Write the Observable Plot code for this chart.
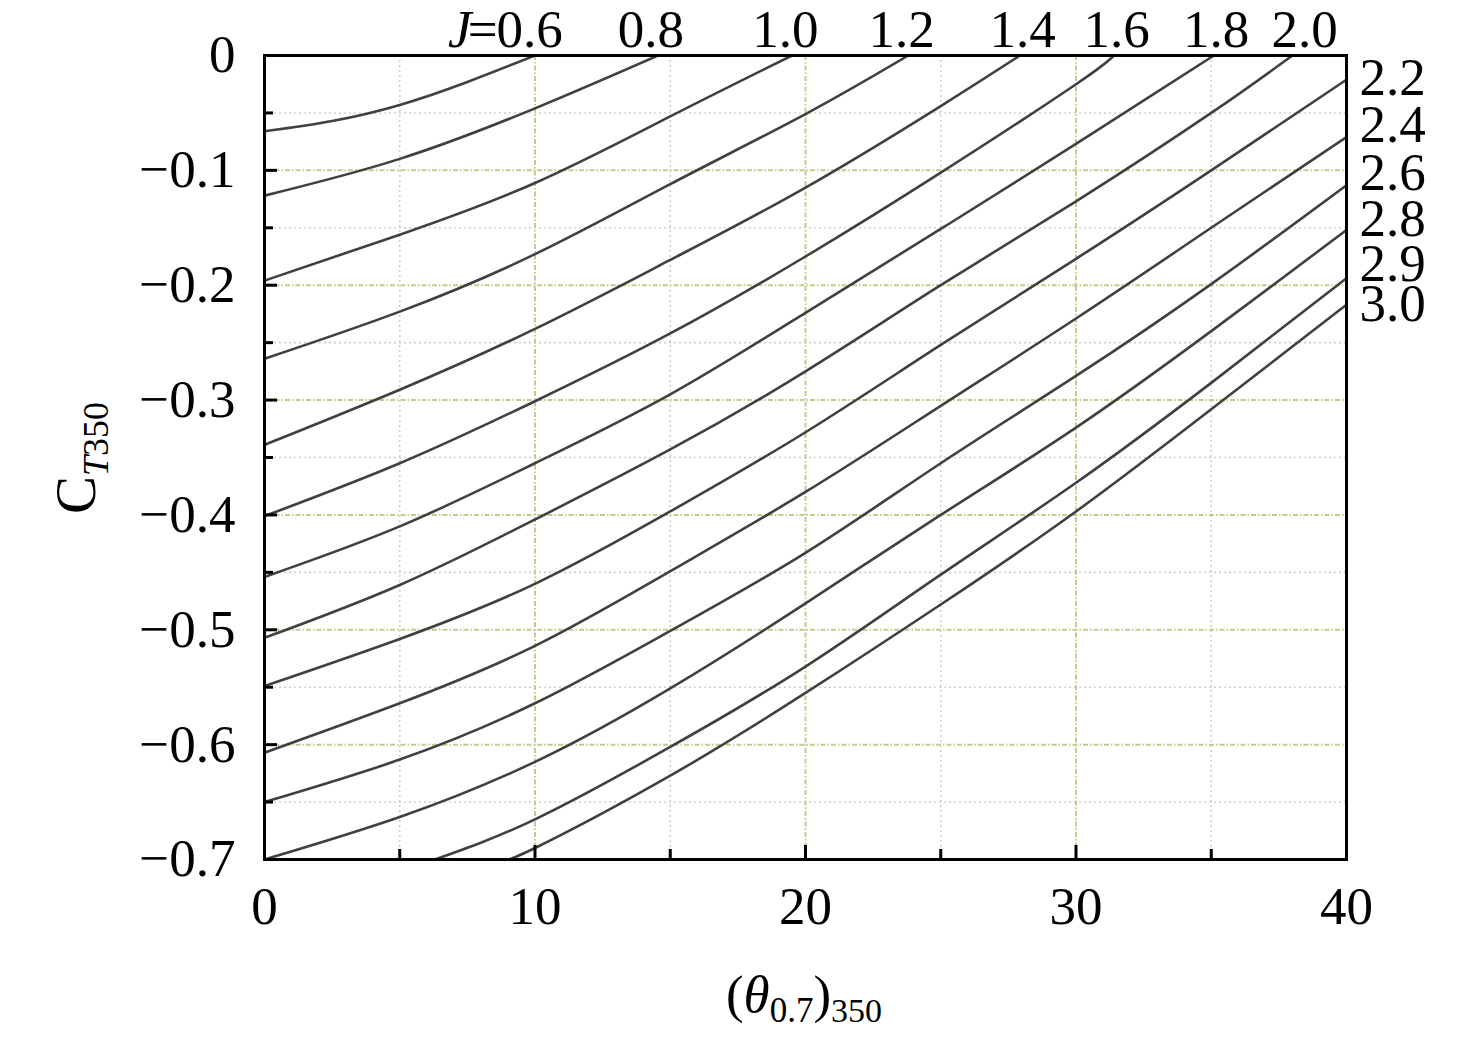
<!DOCTYPE html>
<html>
<head>
<meta charset="utf-8">
<script src="https://cdn.jsdelivr.net/npm/d3@7"></script>
<script src="https://cdn.jsdelivr.net/npm/@observablehq/plot@0.6"></script>
<style>
  html, body { margin: 0; padding: 0; background: #fff; }
  #chart { width: 1476px; height: 1040px; }
</style>
</head>
<body>
<div id="chart"></div>
<script>
// ---- data ----
const jValues = ["0.6","0.8","1.0","1.2","1.4","1.6","1.8","2.0","2.2","2.4","2.6","2.8","2.9","3.0"];

const seriesX = [
  [0, 2.5, 5, 7.5, 10.0],
  [0, 5, 10, 14.55],
  [0, 5, 10, 15, 19.5],
  [0, 5, 10, 15, 20, 23.8],
  [0, 5, 10, 15, 20, 25, 27.93],
  [0, 5, 10, 15, 20, 25, 30, 31.4],
  [0, 5, 10, 15, 20, 25, 30, 35.1],
  [0, 5, 10, 15, 20, 25, 30, 35, 38],
  [0, 5, 10, 15, 20, 25, 30, 35, 40],
  [0, 5, 10, 15, 20, 25, 30, 35, 40],
  [0, 5, 10, 15, 20, 25, 30, 35, 40],
  [0, 5, 10, 15, 20, 25, 30, 35, 40],
  [6.3, 10, 15, 20, 25, 30, 35, 40],
  [8.8, 10, 15, 20, 25, 30, 35, 40]
];

const seriesY = [
  [-0.066, -0.057, -0.043, -0.023, 0],
  [-0.122, -0.090, -0.046, 0],
  [-0.196, -0.156, -0.111, -0.053, 0],
  [-0.264, -0.223, -0.173, -0.112, -0.051, 0],
  [-0.339, -0.291, -0.238, -0.178, -0.115, -0.044, 0],
  [-0.401, -0.355, -0.301, -0.242, -0.175, -0.102, -0.025, 0],
  [-0.454, -0.410, -0.355, -0.295, -0.224, -0.151, -0.077, 0],
  [-0.507, -0.461, -0.404, -0.343, -0.275, -0.200, -0.127, -0.050, 0],
  [-0.549, -0.508, -0.460, -0.397, -0.328, -0.252, -0.177, -0.100, -0.021],
  [-0.607, -0.564, -0.514, -0.449, -0.380, -0.305, -0.229, -0.150, -0.071],
  [-0.650, -0.613, -0.564, -0.501, -0.433, -0.355, -0.279, -0.199, -0.113],
  [-0.700, -0.663, -0.615, -0.551, -0.477, -0.400, -0.324, -0.240, -0.152],
  [-0.700, -0.665, -0.602, -0.532, -0.452, -0.372, -0.285, -0.194],
  [-0.700, -0.690, -0.627, -0.555, -0.478, -0.397, -0.308, -0.217]
];

const topLabels = ["0.6","0.8","1.0","1.2","1.4","1.6","1.8","2.0"];
const topLabelX = [9.8, 14.28, 19.26, 23.55, 28.03, 31.5, 35.18, 38.45];
const rightLabels = ["2.2","2.4","2.6","2.8","2.9","3.0"];
const rightLabelY = [-0.020, -0.0604, -0.1025, -0.1423, -0.1812, -0.216];

const xTicks = [0, 10, 20, 30, 40];
const yTicks = [0, -0.1, -0.2, -0.3, -0.4, -0.5, -0.6, -0.7];
const xMinor = [5, 15, 25, 35];
const xMajorGrid = [10, 20, 30];
const yMinor = [-0.05, -0.15, -0.25, -0.35, -0.45, -0.55, -0.65];
const yMajorGrid = [-0.1, -0.2, -0.3, -0.4, -0.5, -0.6];

// ---- build table ----
const rows = jValues.flatMap((j, i) => seriesX[i].map((x, k) => ({J: j, x, y: seriesY[i][k]})));

const W = 1476, H = 1040;
const mL = 264, mR = 130, mT = 55, mB = 181;
const plotW = W - mL - mR, plotH = H - mT - mB;
const FS = 53;
const font = "'Liberation Serif', 'Times New Roman', serif";

const fmtY = d => d === 0 ? "0" : d3.format(".1f")(d);

const yellow = "#c9c98e";
const gray = "#cfcfcf";

const svg = Plot.plot({
  width: W,
  height: H,
  marginLeft: mL,
  marginRight: mR,
  marginTop: mT,
  marginBottom: mB,
  x: {domain: [0, 40]},
  y: {domain: [-0.7, 0]},
  style: {fontFamily: font, fontSize: FS + "px", background: "#fff", color: "#000"},
  marks: [
    // grid
    Plot.ruleX(xMinor, {x: d => d, stroke: gray, strokeWidth: 1.6, strokeDasharray: "2,3"}),
    Plot.ruleY(yMinor, {y: d => d, stroke: gray, strokeWidth: 1.6, strokeDasharray: "2,3"}),
    Plot.ruleX(xMajorGrid, {x: d => d, stroke: yellow, strokeWidth: 2, strokeDasharray: "5,2,1.5,2"}),
    Plot.ruleY(yMajorGrid, {y: d => d, stroke: yellow, strokeWidth: 2, strokeDasharray: "5,2,1.5,2"}),
    // curves
    Plot.line(rows, {x: "x", y: "y", z: "J", stroke: "#404040", strokeWidth: 2.6, curve: "natural", clip: true}),
    // inward ticks
    Plot.ruleY(yTicks, {y: d => d, stroke: "#000", strokeWidth: 3, insetRight: plotW - 13}),
    Plot.ruleY(yMinor, {y: d => d, stroke: "#000", strokeWidth: 3, insetRight: plotW - 9}),
    Plot.ruleX(xTicks, {x: d => d, stroke: "#000", strokeWidth: 3, insetTop: plotH - 14}),
    Plot.ruleX(xMinor, {x: d => d, stroke: "#000", strokeWidth: 3, insetTop: plotH - 10}),
    Plot.frame({stroke: "#000", strokeWidth: 3}),
    // axes labels
    Plot.axisX({ticks: xTicks, tickSize: 0, tickPadding: 27, tickFormat: d => String(d), label: null, fontSize: FS}),
    Plot.axisY({ticks: yTicks, tickSize: 0, tickPadding: 29, tickFormat: fmtY, label: null, fontSize: FS}),
    // curve labels
    Plot.text(topLabels, {x: topLabelX, text: d => d, frameAnchor: "top", lineAnchor: "bottom", textAnchor: "middle", dy: -9, fontSize: FS}),
    Plot.text(["="], {x: [topLabelX[0]], text: d => d, frameAnchor: "top", lineAnchor: "bottom", textAnchor: "end", dx: -32, dy: -9, fontSize: FS}),
    Plot.text(["J"], {x: [topLabelX[0]], text: d => d, frameAnchor: "top", lineAnchor: "bottom", textAnchor: "end", dx: -58, dy: -9, fontSize: FS, fontStyle: "italic"}),
    Plot.text(rightLabels, {y: rightLabelY, text: d => d, frameAnchor: "right", lineAnchor: "middle", textAnchor: "start", dx: 13, fontSize: FS})
  ]
});

// axis titles with sub-scripts
const s = d3.select(svg);
const yl = s.append("text")
  .attr("transform", "translate(95,458) rotate(-90)")
  .attr("text-anchor", "middle")
  .attr("font-family", font)
  .attr("font-size", 57)
  .attr("fill", "#000");
yl.append("tspan").text("C");
yl.append("tspan").attr("dy", 13).attr("font-size", 36).attr("font-style", "italic").text("T");
yl.append("tspan").attr("font-size", 36).text("350");

const xl = s.append("text")
  .attr("x", 804)
  .attr("y", 1012)
  .attr("text-anchor", "middle")
  .attr("font-family", font)
  .attr("font-size", FS)
  .attr("fill", "#000");
xl.append("tspan").text("(");
xl.append("tspan").attr("font-style", "italic").text("θ");
xl.append("tspan").attr("dy", 10).attr("font-size", 35).text("0.7");
xl.append("tspan").attr("dy", -10).text(")");
xl.append("tspan").attr("dy", 10).attr("font-size", 34).text("350");

document.getElementById("chart").appendChild(svg);
</script>
</body>
</html>
